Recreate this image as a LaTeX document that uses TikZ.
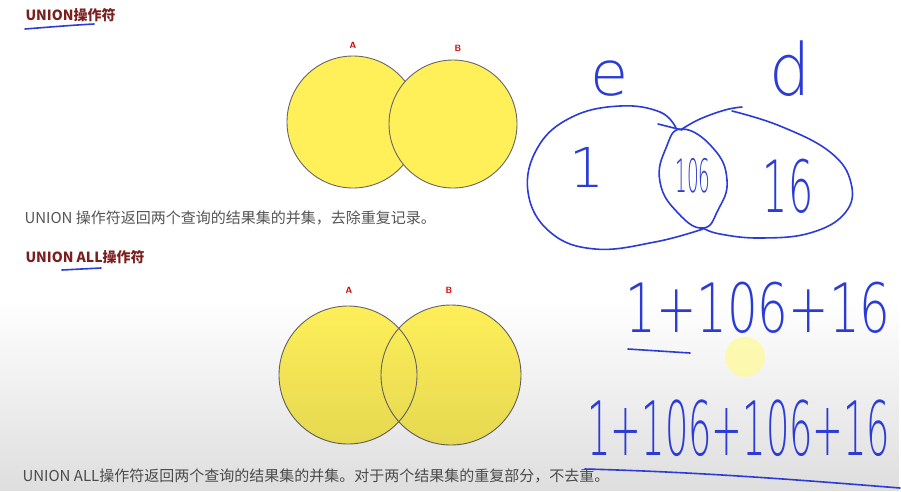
\documentclass[tikz,border=0pt]{standalone}
\usepackage{fontspec}
\newfontfamily\cjk{Noto Sans CJK SC}
\newfontfamily\handfont{DejaVu Sans ExtraLight}
\usetikzlibrary{fadings}
\definecolor{titlered}{HTML}{7A1E1E}
\definecolor{textgray}{HTML}{555555}
\definecolor{venn}{HTML}{FFF05A}
\definecolor{inkblue}{HTML}{2B3CD6}
\tikzfading[name=fadedown, top color=transparent!100, bottom color=transparent!0]
\tikzset{
  title/.style={anchor=west, text=titlered, font=\cjk\bfseries\fontsize{14}{16}\selectfont},
  body/.style={anchor=west, text=textgray, font=\cjk\fontsize{15}{17}\selectfont},
  setlabel/.style={text=red!85!black, font=\sffamily\bfseries\fontsize{9}{10}\selectfont},
  setcircle/.style={fill=venn, draw=gray!80!black, line width=0.9pt},
  pen/.style={draw=inkblue, line width=1.6pt, line cap=round, line join=round},
  hand/.style={anchor=base, text=inkblue, inner sep=0pt, font=\handfont\fontsize{#1}{#1}\selectfont},
}
\begin{document}
\begin{tikzpicture}[x=1pt,y=-1pt]
    \useasboundingbox (0,0) rectangle (901,491);
    \fill[white] (0,0) rectangle (901,491);

    % 标题与说明
    \node[title] (t1) at (22,15) {UNION操作符};
    \node[body] (d1) at (21,218) {UNION 操作符返回两个查询的结果集的并集，去除重复记录。};
    \node[title] (t2) at (22,257) {UNION ALL操作符};
    \node[body] (d2) at (19,476) {UNION ALL操作符返回两个查询的结果集的并集。对于两个结果集的重复部分，不去重。};

    % UNION 的两个圆
    \draw[setcircle] (353,122) circle (66pt);
    \draw[setcircle] (453,124) circle (64pt);
    \node[setlabel] (a1) at (353,45) {A};
    \node[setlabel] (b1) at (458,48) {B};

    % UNION ALL 的两个圆
    \fill[venn] (348,375) circle (69pt);
    \fill[venn] (451,375) circle (70pt);
    \draw[setcircle,fill=none] (348,375) circle (69pt);
    \draw[setcircle,fill=none] (451,375) circle (70pt);
    \node[setlabel] (a2) at (349,290) {A};
    \node[setlabel] (b2) at (449,290) {B};

    % 下半部的灰色渐变
    \fill[black,opacity=0.13,path fading=fadedown] (0,300) rectangle (901,491);

    % 鼠标光标
    \fill[yellow!40!white,opacity=0.75] (745,357) circle (20pt);

    % 手写：下划线
    \draw[pen] (25,29) .. controls (50,27) and (75,25) .. (94,24);
    \draw[pen] (62,270) -- (101,268);

    % 手写：e 和 d 两个集合
    \node[hand=62] (e) at (610,95) {e};
    \node[hand=72,xscale=0.9] (d) at (790,95) {d};
    \draw[pen] plot[smooth,tension=0.7] coordinates {(676,128) (660,112) (620,106) (572,117) (538,147) (528,192) (550,232) (595,249) (655,242) (703,229)};
    \draw[pen] (658,124) -- (682,130);
    \draw[pen] plot[smooth cycle,tension=0.8] coordinates {(682,129) (713,148) (727,180) (718,210) (703,228) (678,213) (660,182) (666,148)};
    \draw[pen] plot[smooth,tension=0.7] coordinates {(742,107) (725,110) (700,119) (682,129)};
    \draw[pen] plot[smooth,tension=0.7] coordinates {(732,111) (780,126) (830,152) (851,183) (845,213) (810,233) (760,238) (720,234) (703,228)};
    \node[hand=55] (n1) at (587,187) {1};
    \node[hand=46,xscale=0.4] (n106) at (693,192) {106};
    \node[hand=72,xscale=0.55] (n16) at (788,212) {16};

    % 手写：两个算式
    \node[hand=68,xscale=0.71] (sum1) at (758,332) {1+106+16};
    \draw[pen] (628,349) -- (690,353);
    \node[hand=75,xscale=0.49] (sum2) at (739,455) {1+106+106+16};
    \draw[pen] (585,469) .. controls (700,472) and (800,480) .. (900,488);
\end{tikzpicture}
\end{document}
